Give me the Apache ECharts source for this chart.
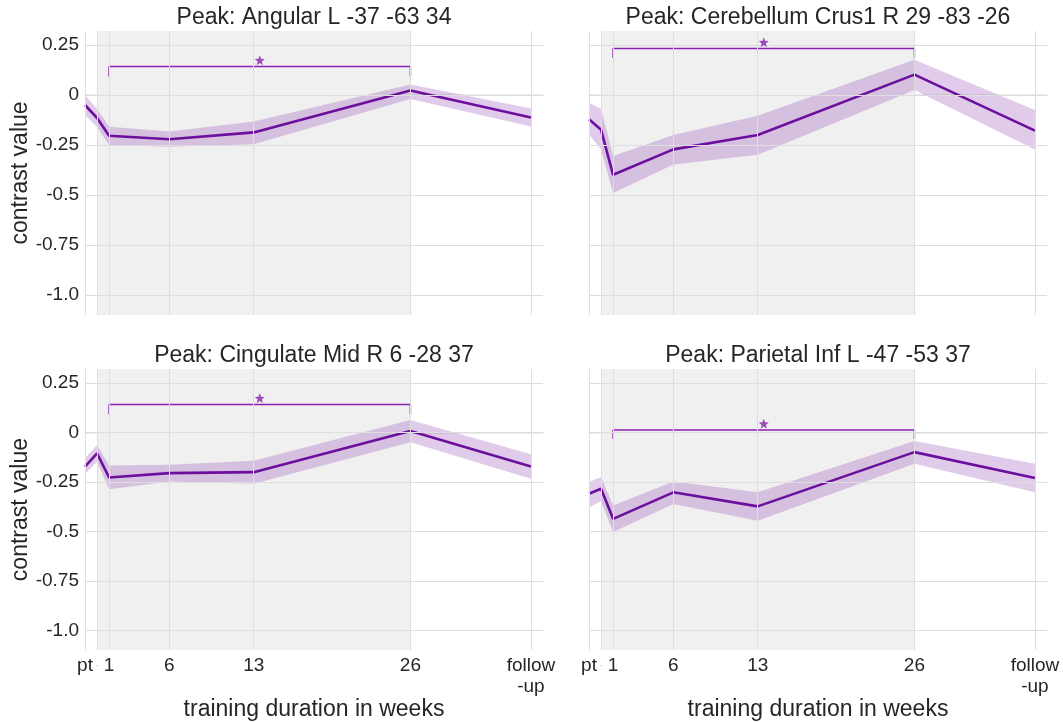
<!DOCTYPE html>
<html>
<head>
<meta charset="utf-8">
<script src="https://cdn.jsdelivr.net/npm/echarts@6/dist/echarts.min.js"></script>
<style>
  html, body { margin: 0; padding: 0; background: #ffffff; }
  #chart { width: 1063px; height: 722px; }
</style>
</head>
<body>
<div id="chart"></div>
<script>
// Measurement occasions (weeks); pt = pre-training, last = follow-up
const weeks = [-1, 0, 1, 6, 13, 26, 36];
const weekLabels = ['pt', '·', '1', '6', '13', '26', 'follow\n-up'];

const yTicks = [-1, -0.75, -0.5, -0.25, 0, 0.25];
const yTickLabels = ['-1.0', '-0.75', '-0.5', '-0.25', '0', '0.25'];

const panelTitles = [
  'Peak: Angular L -37 -63 34',
  'Peak: Cerebellum Crus1 R 29 -83 -26',
  'Peak: Cingulate Mid R 6 -28 37',
  'Peak: Parietal Inf L -47 -53 37'
];

// Mean contrast value and its confidence band per peak
const angularMean = [-0.050, -0.115, -0.204, -0.221, -0.187, 0.022, -0.112];
const angularHigh = [ 0.000, -0.070, -0.159, -0.182, -0.132, 0.052, -0.067];
const angularLow  = [-0.100, -0.160, -0.251, -0.259, -0.246, -0.020, -0.157];

const cerebMean = [-0.121, -0.174, -0.399, -0.272, -0.200, 0.102, -0.178];
const cerebHigh = [-0.037, -0.070, -0.305, -0.200, -0.104, 0.176, -0.075];
const cerebLow  = [-0.196, -0.272, -0.490, -0.347, -0.299, 0.025, -0.273];

const cingMean = [-0.173, -0.106, -0.228, -0.206, -0.201, 0.007, -0.173];
const cingHigh = [-0.131, -0.064, -0.168, -0.164, -0.143, 0.062, -0.111];
const cingLow  = [-0.210, -0.148, -0.287, -0.248, -0.260, -0.050, -0.235];

const parMean = [-0.310, -0.285, -0.437, -0.303, -0.374, -0.100, -0.231];
const parHigh = [-0.251, -0.226, -0.369, -0.248, -0.303, -0.044, -0.159];
const parLow  = [-0.379, -0.348, -0.503, -0.362, -0.446, -0.159, -0.303];

// Significance bracket (week 1 vs week 26) per peak
const sigWeeks = [1, 26];
const sigStarWeek = 13.5;
const sigBarTop  = [0.142, 0.232, 0.141, 0.012];
const sigBarFoot = [0.092, 0.186, 0.092, -0.034];
const sigStarY   = [0.174, 0.264, 0.173, 0.044];

// Training period shading
const trainingSpan = [0, 26];

const panels = [
  { mean: angularMean, high: angularHigh, low: angularLow },
  { mean: cerebMean,   high: cerebHigh,   low: cerebLow },
  { mean: cingMean,    high: cingHigh,    low: cingLow },
  { mean: parMean,     high: parHigh,     low: parLow }
];

const FONT = '"Liberation Sans", Arial, Helvetica, sans-serif';
const TEXT = '#262626';
const LINE = '#6c0f9c';
const BAND = 'rgba(132, 48, 172, 0.25)';
const BRACKET = '#8a1fb0';
const GRID = '#dedede';

// five-pointed star outline
function starPath() {
  const pts = [];
  for (let i = 0; i < 10; i++) {
    const r = i % 2 === 0 ? 1 : 0.42;
    const a = -Math.PI / 2 + i * Math.PI / 5;
    pts.push((r * Math.cos(a)).toFixed(3) + ' ' + (r * Math.sin(a)).toFixed(3));
  }
  return 'path://M' + pts.join(' L') + ' Z';
}
const STAR = starPath();

const layout = [
  { left: 85,  top: 31 },
  { left: 589, top: 31 },
  { left: 85,  top: 369 },
  { left: 589, top: 369 }
];
const W = 458, H = 284;

const grids = [], xAxes = [], yAxes = [], series = [], titles = [];

panels.forEach((p, i) => {
  const isLeft = i % 2 === 0;
  const isBottom = i >= 2;
  const L = layout[i];

  grids.push({ left: L.left, top: L.top, width: W, height: H, containLabel: false });

  titles.push({
    text: panelTitles[i],
    left: L.left + W / 2,
    top: L.top - 25,
    textAlign: 'center',
    padding: 0,
    textStyle: { fontFamily: FONT, fontSize: 23, fontWeight: 'normal', color: TEXT }
  });

  xAxes.push({
    type: 'value', gridIndex: i, min: -1, max: 37,
    splitLine: { show: false },
    axisTick: { show: false },
    axisLine: { show: true, lineStyle: { color: '#e4e4e4', width: 1.5 } },
    axisLabel: {
      show: isBottom,
      customValues: weeks,
      margin: 5,
      fontFamily: FONT, fontSize: 19, color: TEXT, lineHeight: 21,
      formatter: v => {
        const k = weeks.indexOf(v);
        if (k < 0) return '';
        return v === 0 ? '{dot|' + weekLabels[k] + '}' : weekLabels[k];
      },
      rich: { dot: { color: '#b8b8b8', fontSize: 12, fontFamily: FONT } }
    },
    name: isBottom ? 'training duration in weeks' : '',
    nameLocation: 'middle',
    nameGap: 42,
    nameTextStyle: { fontFamily: FONT, fontSize: 23, color: TEXT }
  });

  yAxes.push({
    type: 'value', gridIndex: i, min: -1.1, max: 0.32,
    splitLine: { show: false },
    axisTick: { show: false },
    axisLine: { show: false },
    axisLabel: {
      show: isLeft,
      customValues: yTicks,
      margin: 6,
      fontFamily: FONT, fontSize: 19, color: TEXT,
      formatter: v => {
        const k = yTicks.findIndex(t => Math.abs(t - v) < 1e-9);
        return k < 0 ? '' : yTickLabels[k];
      }
    },
    name: isLeft ? 'contrast value' : '',
    nameLocation: 'middle',
    nameGap: 50,
    nameRotate: 90,
    nameTextStyle: { fontFamily: FONT, fontSize: 23, color: TEXT }
  });

  // shaded training period
  series.push({
    type: 'line', xAxisIndex: i, yAxisIndex: i, z: 0, silent: true,
    data: [], symbol: 'none',
    markArea: {
      silent: true,
      itemStyle: { color: '#f0f0f0' },
      data: [[{ xAxis: trainingSpan[0] }, { xAxis: trainingSpan[1] }]]
    }
  });

  // grid lines
  series.push({
    type: 'line', xAxisIndex: i, yAxisIndex: i, z: 1, silent: true,
    data: [], symbol: 'none',
    markLine: {
      silent: true, symbol: ['none', 'none'],
      label: { show: false },
      lineStyle: { color: GRID, width: 1, type: 'solid' },
      data: weeks.map(w => ({ xAxis: w })).concat(yTicks.map(v => ({ yAxis: v })))
    }
  });

  // confidence band
  series.push({
    type: 'custom', xAxisIndex: i, yAxisIndex: i, z: 3, silent: true,
    data: [[weeks[0], p.mean[0]]],
    renderItem: (params, api) => {
      const pts = [];
      weeks.forEach((w, k) => pts.push(api.coord([w, p.high[k]])));
      for (let k = weeks.length - 1; k >= 0; k--) pts.push(api.coord([weeks[k], p.low[k]]));
      return { type: 'polygon', shape: { points: pts }, style: { fill: BAND } };
    }
  });

  // mean line
  series.push({
    type: 'line', xAxisIndex: i, yAxisIndex: i, z: 4, silent: true,
    symbol: 'none',
    lineStyle: { color: LINE, width: 2.6 },
    data: weeks.map((w, k) => [w, p.mean[k]])
  });

  // significance bracket
  series.push({
    type: 'line', xAxisIndex: i, yAxisIndex: i, z: 4, silent: true,
    symbol: 'none',
    lineStyle: { color: BRACKET, width: 1.5 },
    data: [
      [sigWeeks[0], sigBarFoot[i]], [sigWeeks[0], sigBarTop[i]],
      [sigWeeks[1], sigBarTop[i]], [sigWeeks[1], sigBarFoot[i]]
    ]
  });

  series.push({
    type: 'scatter', xAxisIndex: i, yAxisIndex: i, z: 5, silent: true,
    symbol: STAR, symbolSize: 10,
    itemStyle: { color: BRACKET },
    data: [[sigStarWeek, sigStarY[i]]]
  });
});

const chart = echarts.init(document.getElementById('chart'), null, { renderer: 'canvas' });
chart.setOption({
  animation: false,
  backgroundColor: '#ffffff',
  title: titles,
  grid: grids,
  xAxis: xAxes,
  yAxis: yAxes,
  series: series
});
</script>
</body>
</html>
